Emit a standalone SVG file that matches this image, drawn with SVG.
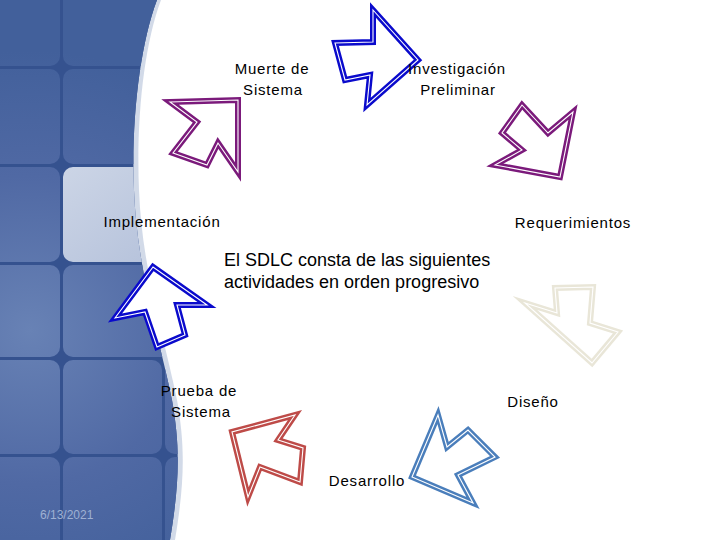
<svg xmlns="http://www.w3.org/2000/svg" xmlns:xlink="http://www.w3.org/1999/xlink" width="720" height="540" viewBox="0 0 720 540">
<defs>
<style>
.lbl{font-family:"Liberation Sans",Arial,sans-serif;font-size:15px;letter-spacing:0.8px;fill:#000;text-anchor:middle}
.main{font-family:"Liberation Sans",Arial,sans-serif;font-size:18px;fill:#000}
.arrow{fill:#fff;stroke-width:6;stroke-linejoin:miter;stroke-miterlimit:6}
.arrow use{fill:none;stroke:#fff;stroke-width:1.1}
.purple{stroke:#7B1A7B}
.blue{stroke:#0A0ACC}
.beige{stroke:#E9E6D8}
.steel{stroke:#4A7EBB}
.red{stroke:#BE4B48}
.tile{fill:url(#tileGrad)}
</style>
<clipPath id="panelClip">
<path d="M0,0 H157 C140,45 131,120 134,190 C137,270 160,340 172,400 C180,445 180,480 170,540 H0 Z"/>
</clipPath>
<radialGradient id="tileGrad" gradientUnits="userSpaceOnUse" cx="30" cy="330" r="280">
<stop offset="0" stop-color="#6882b5"/>
<stop offset="0.55" stop-color="#5069a4"/>
<stop offset="1" stop-color="#42609b"/>
</radialGradient>
<linearGradient id="hiGrad" x1="0" y1="0" x2="1" y2="1">
<stop offset="0" stop-color="#ccd5e6"/>
<stop offset="1" stop-color="#b3c0da"/>
</linearGradient>
</defs>
<rect width="720" height="540" fill="#fff"/>
<g id="background">
<path d="M0,0 H161 C144,45 136,120 139,190 C142,270 165,340 177,400 C185,445 185,480 175,540 H0 Z" fill="#c3cde0" opacity="0.75"/>
<g clip-path="url(#panelClip)">
<rect x="0" y="0" width="200" height="540" fill="#35528f"/>
<rect class="tile" x="-20" y="-20" width="80" height="86" rx="10"/>
<rect class="tile" x="63" y="-20" width="120" height="86" rx="10"/>
<rect class="tile" x="-20" y="69" width="80" height="95" rx="10"/>
<rect class="tile" x="63" y="69" width="120" height="95" rx="10"/>
<rect class="tile" x="-20" y="167" width="80" height="95" rx="10"/>
<rect x="63" y="167" width="120" height="95" rx="10" fill="url(#hiGrad)"/>
<rect class="tile" x="-20" y="265" width="80" height="92" rx="10"/>
<rect class="tile" x="63" y="265" width="120" height="92" rx="10"/>
<rect class="tile" x="-20" y="360" width="80" height="94" rx="10"/>
<rect class="tile" x="63" y="360" width="99" height="94" rx="10"/>
<rect class="tile" x="165" y="360" width="60" height="94" rx="10"/>
<rect class="tile" x="-20" y="457" width="80" height="100" rx="10"/>
<rect class="tile" x="63" y="457" width="99" height="100" rx="10"/>
<rect class="tile" x="165" y="457" width="60" height="100" rx="10"/>
</g>
<text x="40" y="519" font-family="Liberation Sans,Arial,sans-serif" font-size="12" fill="#9fb1d3">6/13/2021</text>
</g>
<g id="connectors">
<g id="arrow-muerte-investigacion" class="arrow blue">
<polygon id="p1" points="373,10 418,60 367,105 370,75 345,80 335,43 373,42"/>
<use xlink:href="#p1" href="#p1"/>
</g>
<g id="arrow-investigacion-requerimientos" class="arrow purple">
<polygon id="p2" points="573,112 560,177 495,165 522,150 502,133 522,105 548,133"/>
<use xlink:href="#p2" href="#p2"/>
</g>
<g id="arrow-requerimientos-diseno" class="arrow beige">
<polygon id="p3" points="618,332 592,363 525,303 557,313 555,288 593,287 590,323"/>
<use xlink:href="#p3" href="#p3"/>
</g>
<g id="arrow-diseno-desarrollo" class="arrow steel">
<polygon id="p4" points="473,503 412,477 438,415 447,447 468,430 495,457 458,475"/>
<use xlink:href="#p4" href="#p4"/>
</g>
<g id="arrow-desarrollo-prueba" class="arrow red">
<polygon id="p5" points="248,497 232,432 295,415 278,440 303,448 300,482 260,467"/>
<use xlink:href="#p5" href="#p5"/>
</g>
<g id="arrow-prueba-implementacion" class="arrow blue">
<polygon id="p6" points="115,318 153,267 207,305 177,305 185,335 157,347 145,312"/>
<use xlink:href="#p6" href="#p6"/>
</g>
<g id="arrow-implementacion-muerte" class="arrow purple">
<polygon id="p7" points="170,102 238,100 238,172 218,143 207,165 173,153 197,122"/>
<use xlink:href="#p7" href="#p7"/>
</g>
</g>
<g id="node-muerte"><text class="lbl" x="272" y="74">Muerte de</text><text class="lbl" x="273" y="95">Sistema</text></g>
<g id="node-investigacion"><text class="lbl" x="457" y="74">Investigación</text><text class="lbl" x="458" y="95">Preliminar</text></g>
<g id="node-requerimientos"><text class="lbl" x="573" y="228">Requerimientos</text></g>
<g id="node-diseno"><text class="lbl" x="533" y="407">Diseño</text></g>
<g id="node-desarrollo"><text class="lbl" x="367" y="486">Desarrollo</text></g>
<g id="node-prueba"><text class="lbl" x="199" y="396">Prueba de</text><text class="lbl" x="201" y="417">Sistema</text></g>
<g id="node-implementacion"><text class="lbl" x="162" y="227">Implementación</text></g>
<g id="node-center"><text class="main" x="224" y="266">El SDLC consta de las siguientes</text><text class="main" x="224" y="288">actividades en orden progresivo</text></g>
</svg>
